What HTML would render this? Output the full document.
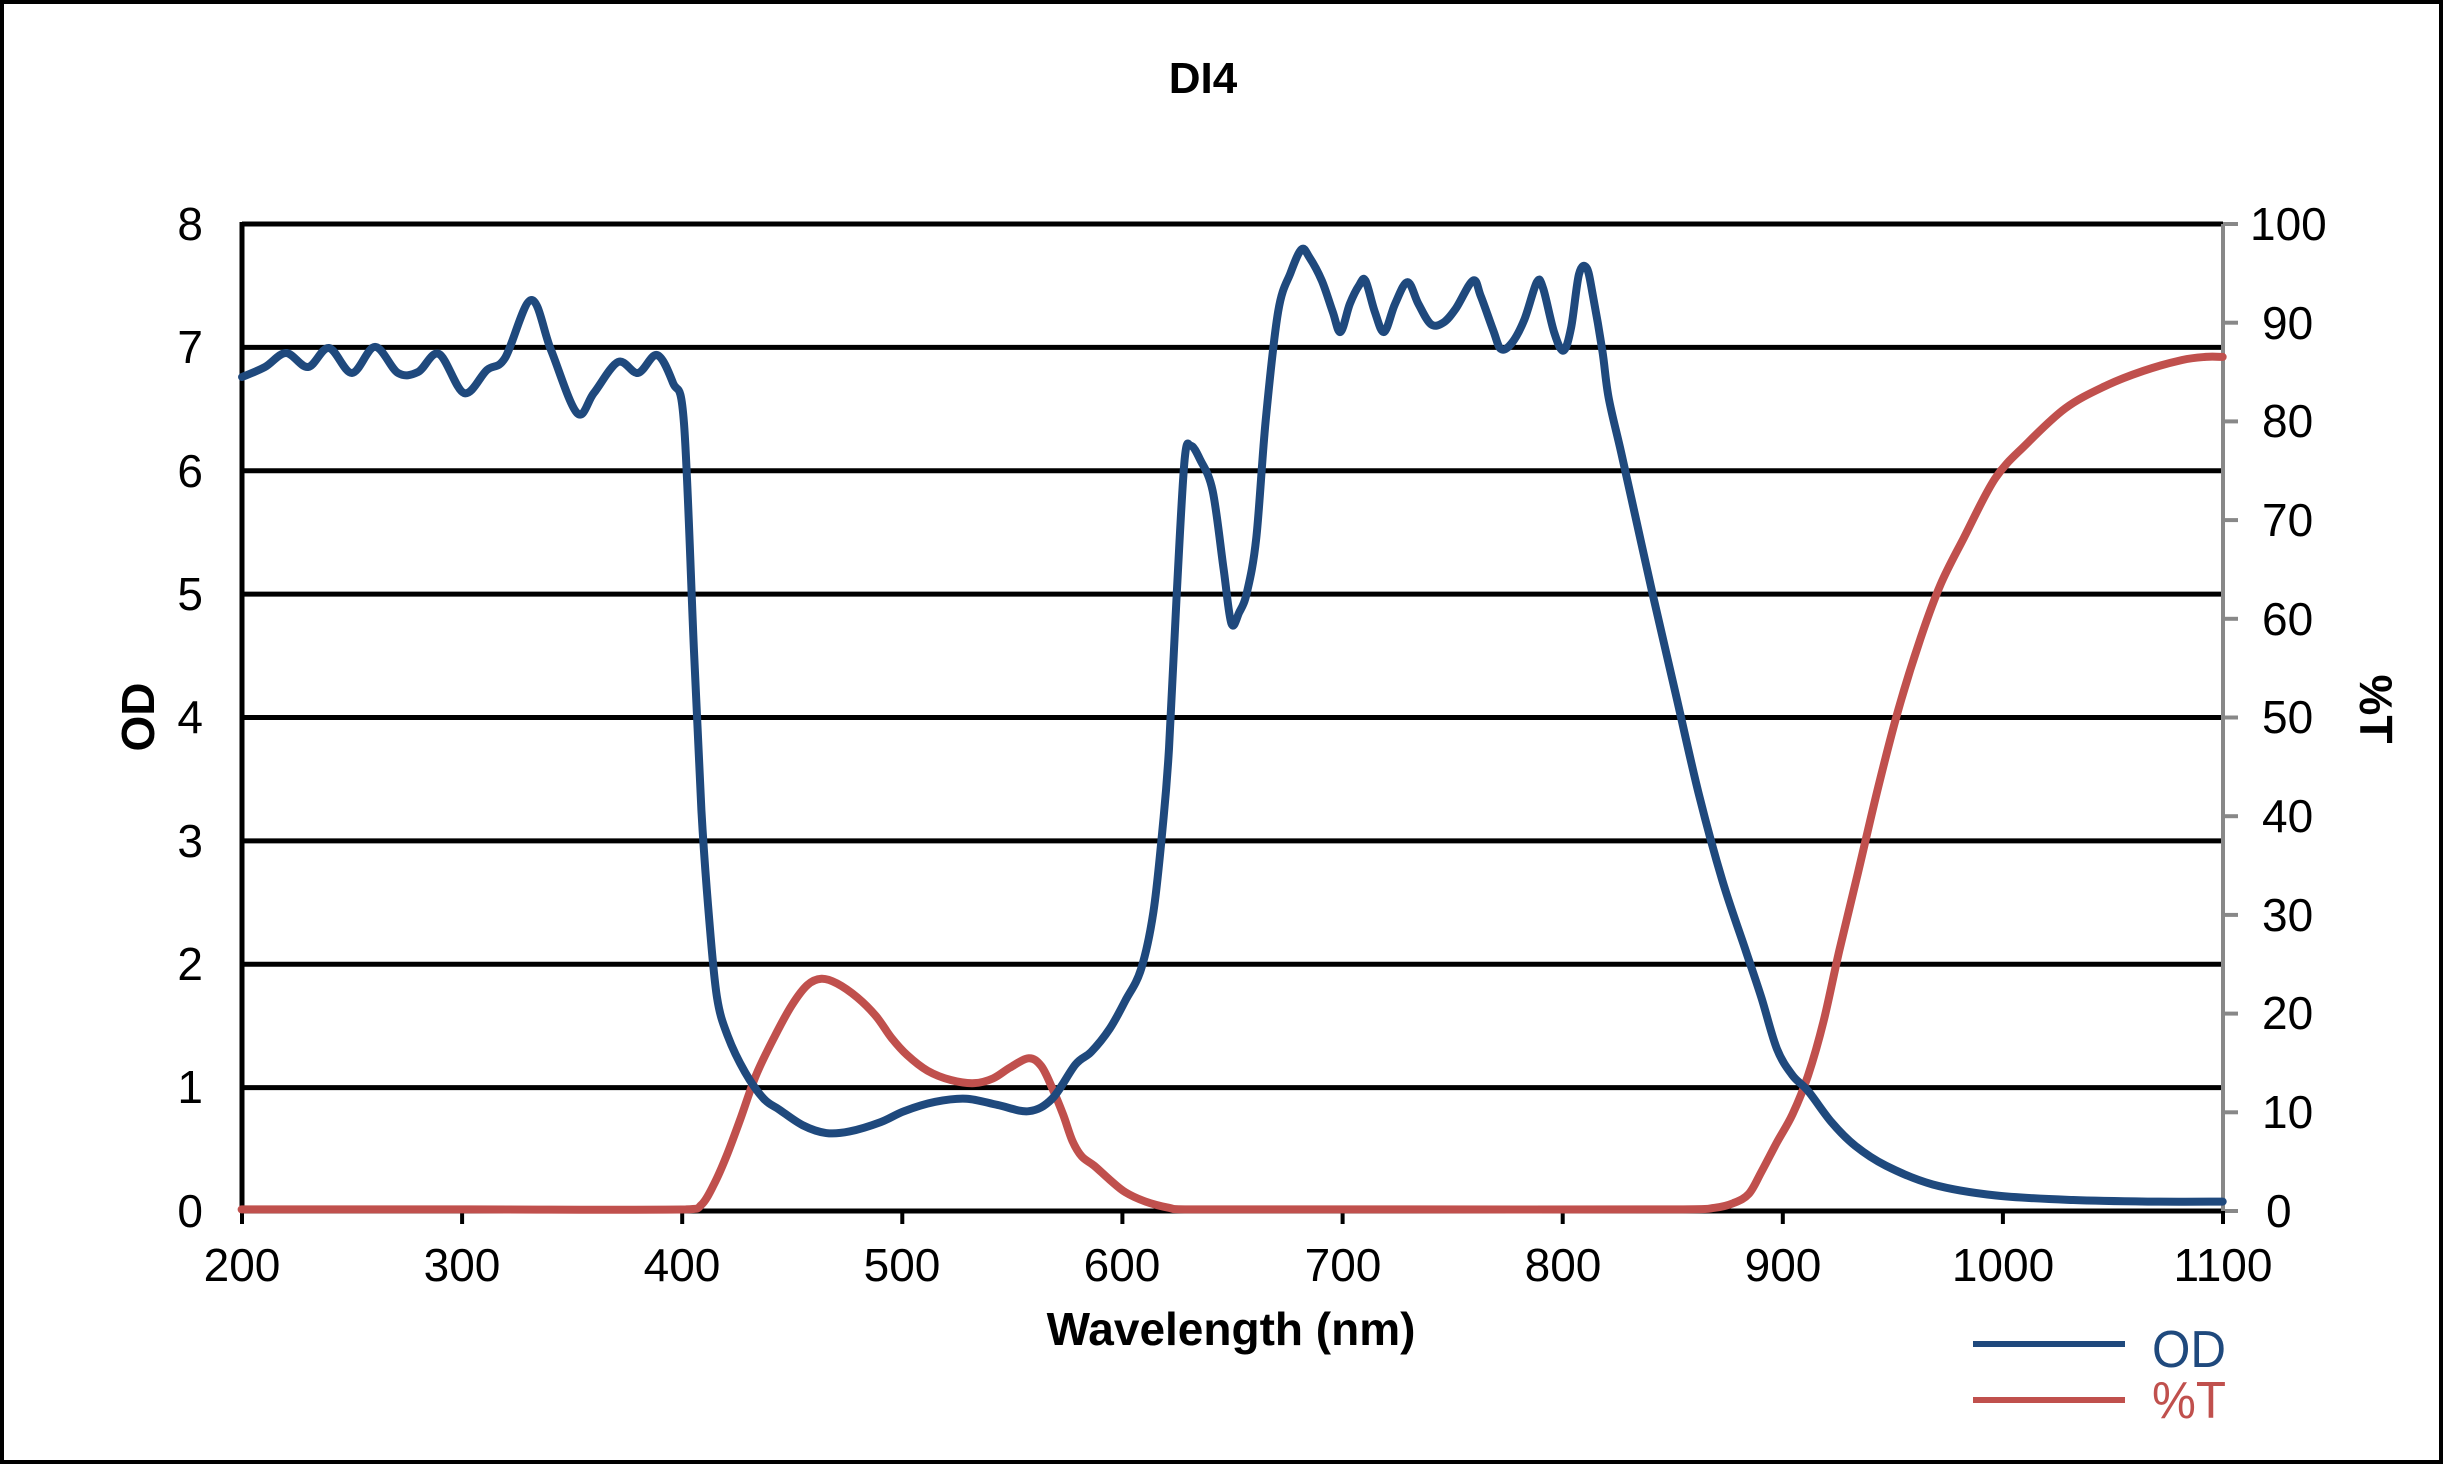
<!DOCTYPE html>
<html><head><meta charset="utf-8"><style>
html,body{margin:0;padding:0;background:#fff;}
svg{display:block;font-family:"Liberation Sans",Arial,sans-serif;}
</style></head><body>
<svg width="2444" height="1465" viewBox="0 0 2444 1465" xmlns="http://www.w3.org/2000/svg">
<rect x="2" y="2" width="2439" height="1460" fill="#fff" stroke="#000" stroke-width="4"/>
<text x="1203" y="93" font-size="44" font-weight="bold" text-anchor="middle">DI4</text>
<g stroke="#000" stroke-width="5">
<line x1="242" y1="224" x2="2223" y2="224"/>
<line x1="242" y1="347.4" x2="2223" y2="347.4"/>
<line x1="242" y1="470.8" x2="2223" y2="470.8"/>
<line x1="242" y1="594.1" x2="2223" y2="594.1"/>
<line x1="242" y1="717.5" x2="2223" y2="717.5"/>
<line x1="242" y1="840.9" x2="2223" y2="840.9"/>
<line x1="242" y1="964.3" x2="2223" y2="964.3"/>
<line x1="242" y1="1087.6" x2="2223" y2="1087.6"/>
<line x1="242" y1="1211" x2="2223" y2="1211"/>
<line x1="242" y1="222" x2="242" y2="1213"/>
</g>
<g stroke="#888" stroke-width="4">
<line x1="2223" y1="224" x2="2223" y2="1211"/>
<line x1="2223" y1="224" x2="2238" y2="224"/>
<line x1="2223" y1="322.7" x2="2238" y2="322.7"/>
<line x1="2223" y1="421.4" x2="2238" y2="421.4"/>
<line x1="2223" y1="520.1" x2="2238" y2="520.1"/>
<line x1="2223" y1="618.8" x2="2238" y2="618.8"/>
<line x1="2223" y1="717.5" x2="2238" y2="717.5"/>
<line x1="2223" y1="816.2" x2="2238" y2="816.2"/>
<line x1="2223" y1="914.9" x2="2238" y2="914.9"/>
<line x1="2223" y1="1013.6" x2="2238" y2="1013.6"/>
<line x1="2223" y1="1112.3" x2="2238" y2="1112.3"/>
<line x1="2223" y1="1211" x2="2238" y2="1211"/>
</g>
<g stroke="#000" stroke-width="4">
<line x1="242" y1="1211" x2="242" y2="1224"/><line x1="462.1" y1="1211" x2="462.1" y2="1224"/>
<line x1="682.2" y1="1211" x2="682.2" y2="1224"/><line x1="902.3" y1="1211" x2="902.3" y2="1224"/>
<line x1="1122.4" y1="1211" x2="1122.4" y2="1224"/><line x1="1342.6" y1="1211" x2="1342.6" y2="1224"/>
<line x1="1562.7" y1="1211" x2="1562.7" y2="1224"/><line x1="1782.8" y1="1211" x2="1782.8" y2="1224"/>
<line x1="2002.9" y1="1211" x2="2002.9" y2="1224"/><line x1="2223" y1="1211" x2="2223" y2="1224"/>
</g>
<g font-size="46" text-anchor="end">
<text x="203" y="240">8</text><text x="203" y="363">7</text><text x="203" y="487">6</text>
<text x="203" y="610">5</text><text x="203" y="733">4</text><text x="203" y="857">3</text>
<text x="203" y="980">2</text><text x="203" y="1103">1</text><text x="203" y="1227">0</text>
</g>
<g font-size="46" text-anchor="start">
<text x="2250" y="240">100</text><text x="2262" y="339">90</text><text x="2262" y="437">80</text>
<text x="2262" y="536">70</text><text x="2262" y="635">60</text><text x="2262" y="733">50</text>
<text x="2262" y="832">40</text><text x="2262" y="931">30</text><text x="2262" y="1029">20</text>
<text x="2262" y="1128">10</text><text x="2266" y="1227">0</text>
</g>
<g font-size="46" text-anchor="middle">
<text x="242" y="1281">200</text><text x="462" y="1281">300</text><text x="682" y="1281">400</text>
<text x="902" y="1281">500</text><text x="1122" y="1281">600</text><text x="1343" y="1281">700</text>
<text x="1563" y="1281">800</text><text x="1783" y="1281">900</text><text x="2003" y="1281">1000</text>
<text x="2223" y="1281">1100</text>
</g>
<text x="1231" y="1345" font-size="46" font-weight="bold" text-anchor="middle">Wavelength (nm)</text>
<text transform="translate(154,717) rotate(-90)" font-size="46" font-weight="bold" text-anchor="middle">OD</text>
<text transform="translate(2360,709) rotate(90)" font-size="46" font-weight="bold" text-anchor="middle">%T</text>
<g transform="scale(1.5587,1.5585)" fill="none" stroke-linejoin="round" stroke-linecap="round">
<path id="pT" stroke="#c0504d" stroke-width="8" vector-effect="non-scaling-stroke" data-p="155,776 300,776 440,776 450,773 458,760 466,742 475,718 485,690 497,665 508,645 518,632 527,628 537,631 550,640 562,652 572,666 582,677 595,687 610,693 625,695 637,692 648,685 660,679 668,684 675,698 682,715 688,732 694,742 702,748 712,757 722,765 735,771 750,775 760,776 900,776 1080,776 1100,775 1112,772 1122,766 1130,752 1140,733 1150,715 1160,690 1170,655 1180,610 1192,560 1205,505 1218,455 1232,410 1245,375 1260,345 1280,307 1300,285 1325,262 1350,248 1375,238 1400,231 1415,229 1426,229"/>
<path id="pO" stroke="#1f497d" stroke-width="8" vector-effect="non-scaling-stroke" data-p="155.3,241.9 170,235.5 183.5,226.5 197.6,235.5 211,223.3 225.8,239.3 240.6,222.6 255.3,239.3 268.2,238.7 281.6,227.1 297.7,252.2 312.4,237.4 324,229.7 340.7,192.5 353.5,224.6 370.2,265 381,252.2 396.5,232.3 409.3,239.3 421.5,227.8 431.8,245.8 438.8,271.4 445.2,417 450,520 455,590 460,640 467,665 478,688 490,705 500,712 515,722 530,727 545,726 565,720 580,713 600,707 620,705 640,709 660,713 675,705 690,683 700,675 712,660 722,642 732,622 740,585 746,530 750,480 755,380 760,295 764,286 770,295 778,315 785,365 790,400 795,393 800,380 806,345 812,270 820,200 828,175 835,160 840,165 848,180 855,200 860,213 866,195 872,183 876,180 882,200 888,213 895,195 903,181 910,195 918,208 926,207 934,198 945,180 950,190 958,212 963,224 970,220 978,205 986,181 990,185 997,213 1003,225 1008,210 1013,176 1018,172 1022,190 1028,225 1032,255 1040,290 1050,335 1060,380 1075,445 1090,510 1105,565 1120,610 1130,640 1140,673 1150,690 1160,700 1175,720 1190,735 1210,748 1240,760 1280,767 1330,770 1380,771 1426,771"/>
</g>
<line x1="1973" y1="1344" x2="2125" y2="1344" stroke="#1f497d" stroke-width="6"/>
<line x1="1973" y1="1400" x2="2125" y2="1400" stroke="#c0504d" stroke-width="6"/>
<text x="2152" y="1367" font-size="52" fill="#1f497d" textLength="74" lengthAdjust="spacingAndGlyphs">OD</text>
<text x="2152" y="1418" font-size="52" fill="#c0504d" textLength="74" lengthAdjust="spacingAndGlyphs">%T</text>
</svg>
<script>
['pT','pO'].forEach(function(id){
  var el=document.getElementById(id);
  var p=el.getAttribute('data-p').trim().split(/\s+/).map(function(s){return s.split(',').map(Number);});
  var d='M'+p[0][0]+','+p[0][1];
  for(var i=0;i<p.length-1;i++){
    var p0=p[i-1]||p[i],p1=p[i],p2=p[i+1],p3=p[i+2]||p2;
    var c1x=p1[0]+(p2[0]-p0[0])/6,c1y=p1[1]+(p2[1]-p0[1])/6;
    var c2x=p2[0]-(p3[0]-p1[0])/6,c2y=p2[1]-(p3[1]-p1[1])/6;
    if(c1x>p2[0])c1x=p2[0]; if(c2x<p1[0])c2x=p1[0];
    d+=' C'+c1x.toFixed(2)+','+c1y.toFixed(2)+' '+c2x.toFixed(2)+','+c2y.toFixed(2)+' '+p2[0]+','+p2[1];
  }
  el.setAttribute('d',d);
});
</script>
</body></html>
